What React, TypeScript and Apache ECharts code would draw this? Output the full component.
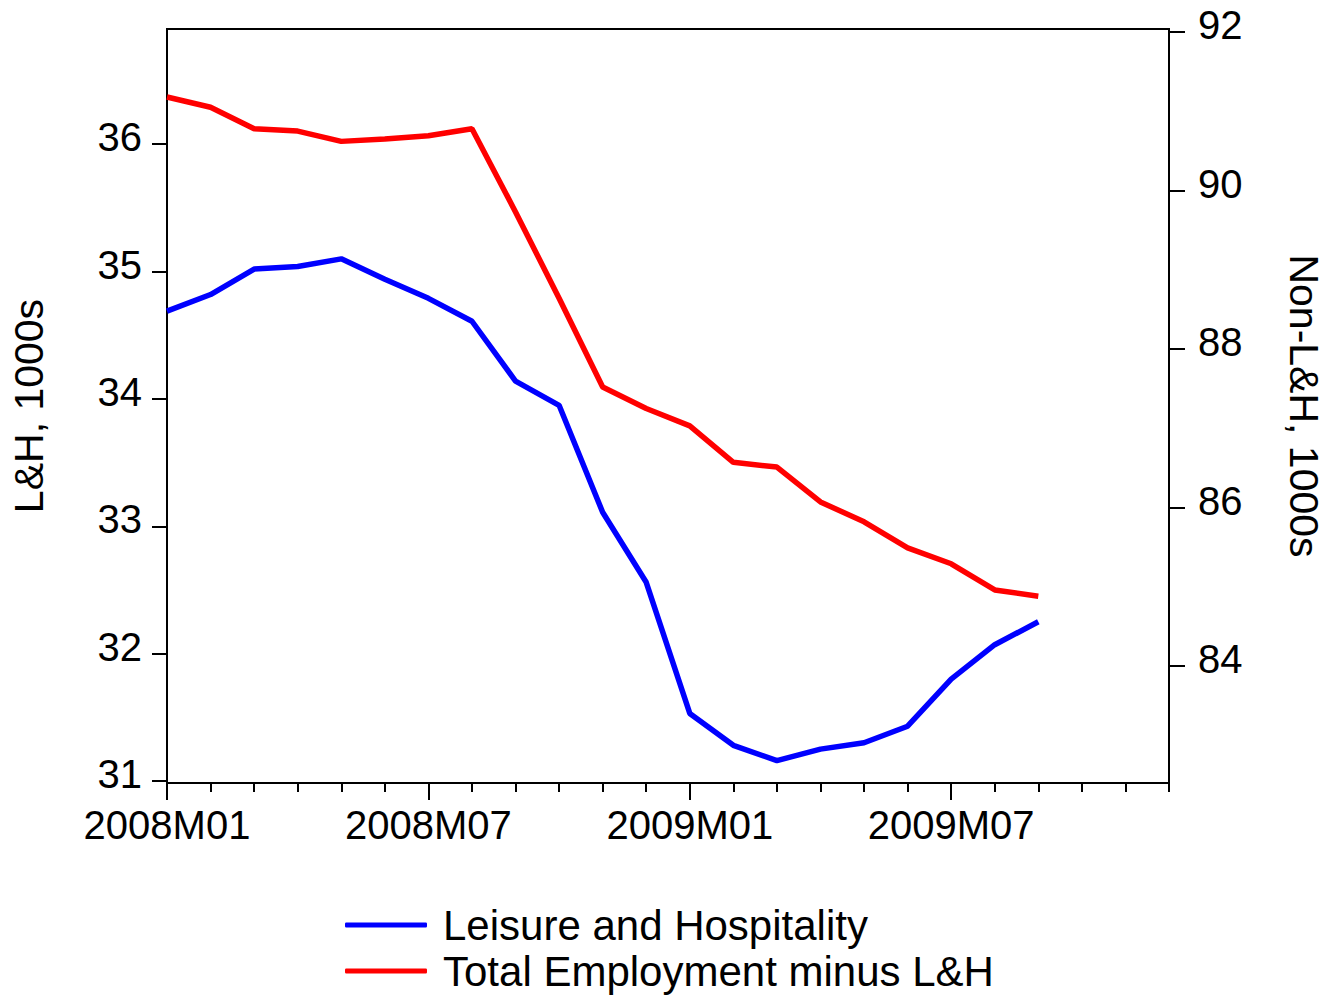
import React, { useEffect, useRef } from "react";
import * as echarts from "echarts";

const months: string[] = [
  "2008M01", "2008M02", "2008M03", "2008M04", "2008M05", "2008M06",
  "2008M07", "2008M08", "2008M09", "2008M10", "2008M11", "2008M12",
  "2009M01", "2009M02", "2009M03", "2009M04", "2009M05", "2009M06",
  "2009M07", "2009M08", "2009M09", "2009M10", "2009M11", "2009M12",
];

const leisureHospitality: number[] = [
  34.69, 34.82, 35.02, 35.04, 35.10, 34.94, 34.79, 34.61, 34.14, 33.95,
  33.11, 32.56, 31.53, 31.28, 31.16, 31.25, 31.30, 31.43, 31.80, 32.07, 32.25,
];

const totalMinusLH: number[] = [
  91.18, 91.05, 90.78, 90.75, 90.62, 90.65, 90.69, 90.78, 89.73, 88.64,
  87.52, 87.25, 87.03, 86.57, 86.51, 86.07, 85.82, 85.49, 85.29, 84.96, 84.88,
];

const leftTicks: number[] = [31, 32, 33, 34, 35, 36];
const rightTicks: number[] = [84, 86, 88, 90, 92];

const seriesNames = ["Leisure and Hospitality", "Total Employment minus L&H"];
const FONT = "'Liberation Sans', Arial, sans-serif";

export default function App() {
  const ref = useRef<HTMLDivElement>(null);

  useEffect(() => {
    document.body.style.margin = "0";
    if (!ref.current) return;
    const chart = echarts.init(ref.current, null, { renderer: "svg" });
    chart.setOption({
      animation: false,
      backgroundColor: "#ffffff",
      textStyle: { fontFamily: FONT, color: "#000" },
      grid: {
        left: 166,
        top: 29,
        width: 1003,
        height: 754,
        show: true,
        borderColor: "#000",
        borderWidth: 2,
        backgroundColor: "transparent",
      },
      legend: {
        orient: "vertical",
        left: 345,
        top: 902,
        padding: 0,
        itemWidth: 82,
        itemHeight: 5,
        itemGap: 0,
        icon: "roundRect",
        data: seriesNames,
        textStyle: {
          fontFamily: FONT,
          fontSize: 42,
          lineHeight: 46,
          color: "#000",
          padding: [0, 0, 0, 11],
        },
      },
      xAxis: [
        {
          type: "category",
          data: months,
          boundaryGap: false,
          position: "bottom",
          axisLine: { show: true, lineStyle: { color: "#000", width: 2 } },
          axisTick: { show: true, interval: 0, length: 9, lineStyle: { color: "#000", width: 2 } },
          axisLabel: {
            interval: 5,
            margin: 22,
            fontSize: 40,
            color: "#000",
            fontFamily: FONT,
          },
          splitLine: { show: false },
        },
        {
          type: "category",
          data: months,
          boundaryGap: false,
          position: "bottom",
          axisLine: { show: false },
          axisTick: { show: true, interval: 5, length: 17, lineStyle: { color: "#000", width: 2 } },
          axisLabel: { show: false },
          splitLine: { show: false },
        },
      ],
      yAxis: [
        {
          type: "value",
          position: "left",
          min: 30.984,
          max: 36.905,
          name: "L&H, 1000s",
          nameLocation: "middle",
          nameGap: 118,
          nameTextStyle: { fontSize: 41, color: "#000", fontFamily: FONT },
          axisLine: { show: true, lineStyle: { color: "#000", width: 2 } },
          axisTick: {
            show: true,
            length: 15,
            customValues: leftTicks,
            lineStyle: { color: "#000", width: 2 },
          },
          axisLabel: {
            customValues: leftTicks,
            margin: 25,
            fontSize: 40,
            color: "#000",
            fontFamily: FONT,
            verticalAlign: "bottom",
            lineHeight: 14,
          },
          splitLine: { show: false },
        },
        {
          type: "value",
          position: "right",
          min: 82.524,
          max: 92.038,
          name: "Non-L&H, 1000s",
          nameLocation: "middle",
          nameRotate: -90,
          nameGap: 114,
          nameTextStyle: { fontSize: 41, color: "#000", fontFamily: FONT },
          axisLine: { show: true, lineStyle: { color: "#000", width: 2 } },
          axisTick: {
            show: true,
            length: 16,
            customValues: rightTicks,
            lineStyle: { color: "#000", width: 2 },
          },
          axisLabel: {
            customValues: rightTicks,
            margin: 29,
            fontSize: 40,
            color: "#000",
            fontFamily: FONT,
            verticalAlign: "bottom",
            lineHeight: 14,
          },
          splitLine: { show: false },
        },
      ],
      series: [
        {
          name: seriesNames[0],
          type: "line",
          xAxisIndex: 0,
          yAxisIndex: 0,
          data: leisureHospitality,
          showSymbol: false,
          color: "#0000ff",
          lineStyle: { color: "#0000ff", width: 5.5 },
        },
        {
          name: seriesNames[1],
          type: "line",
          xAxisIndex: 0,
          yAxisIndex: 1,
          data: totalMinusLH,
          showSymbol: false,
          color: "#ff0000",
          lineStyle: { color: "#ff0000", width: 5.5 },
        },
      ],
    });
    return () => {
      chart.dispose();
    };
  }, []);

  return <div ref={ref} style={{ width: 1332, height: 997 }} />;
}
